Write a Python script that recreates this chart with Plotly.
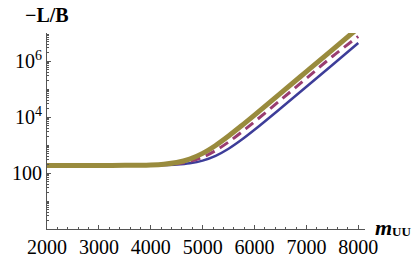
import plotly.graph_objects as go

m_vals = [2000, 2500, 3000, 3500, 4000, 4250, 4500, 4750, 5000, 5250, 5500, 5750, 6000, 6500, 7000, 7500, 8000]
blue_vals = [186, 186, 186.1, 186.4, 188.5, 192, 201, 223, 277, 410, 736, 1535, 3497, 20140, 120400, 724600, 4.37e6]
purple_vals = [186, 186, 186.1, 186.8, 191, 198, 216, 260, 368, 633, 1282, 2878, 6793, 40000, 240000, 1.445e6, 7.5e6]
olive_vals = [186, 186, 186.2, 187.5, 195, 207, 238, 315, 502, 962, 2091, 4863, 11670, 69370, 417000, 2.51e6, 1.51e7]

x_ticks = [2000, 3000, 4000, 5000, 6000, 7000, 8000]
x_tick_labels = ["2000", "3000", "4000", "5000", "6000", "7000", "8000"]
y_ticks = [100, 1e4, 1e6]
y_tick_labels = ["100", "10<sup>4</sup>", "10<sup>6</sup>"]

x_minor = [v for v in range(2000, 8001, 200) if v % 1000 != 0]
y_minor = []
for k in range(0, 7):
    for mlt in range(1, 10):
        v = mlt * 10 ** k
        if v not in y_ticks:
            y_minor.append(v)

FONT = "Liberation Serif"
AX = "#555555"

fig = go.Figure()
fig.add_trace(go.Scatter(x=m_vals, y=blue_vals, mode="lines",
                         line=dict(color="#3d3d99", width=2.5, shape="spline"), showlegend=False))
fig.add_trace(go.Scatter(x=m_vals, y=purple_vals, mode="lines",
                         line=dict(color="#993d71", width=3, dash="10px,6px", shape="spline"), showlegend=False))
fig.add_trace(go.Scatter(x=m_vals, y=olive_vals, mode="lines",
                         line=dict(color="#998b3d", width=5, shape="spline"), showlegend=False))

def px_x(p):
    return (p - 37) / 328

def px_y(p):
    return (240 - p) / 207

fig.update_layout(
    width=417, height=270,
    margin=dict(l=37, r=52, t=33, b=30),
    plot_bgcolor="white", paper_bgcolor="white",
    font=dict(family=FONT, size=20, color="black"),
    xaxis=dict(range=[2000, 8130], showline=True, linecolor=AX, linewidth=1,
               tickvals=x_ticks, ticktext=x_tick_labels, ticks="inside", ticklen=4,
               tickcolor=AX, showgrid=False, zeroline=False, tickfont=dict(family=FONT, size=20),
               minor=dict(tickvals=x_minor, ticks="inside", ticklen=2.5, tickcolor=AX, showgrid=False)),
    yaxis=dict(type="log", range=[0, 7], showline=True, linecolor=AX, linewidth=1,
               tickvals=y_ticks, ticktext=y_tick_labels, ticks="inside", ticklen=4,
               tickcolor=AX, showgrid=False, zeroline=False, tickfont=dict(family=FONT, size=20),
               minor=dict(tickvals=y_minor, ticks="inside", ticklen=2, tickcolor=AX, showgrid=False)),
    annotations=[
        dict(text="<b>\u2212L/B</b>", xref="paper", yref="paper", x=0, y=px_y(14),
             xanchor="center", yanchor="middle", showarrow=False, font=dict(size=20, family=FONT)),
        dict(text="<b><i>m</i></b>", xref="paper", yref="paper",
             x=px_x(374), y=px_y(238), xanchor="left", yanchor="middle", borderpad=0,
             showarrow=False, font=dict(size=22, family=FONT)),
        dict(text="<b>UU</b>", xref="paper", yref="paper",
             x=px_x(392), y=px_y(243), xanchor="left", yanchor="middle", borderpad=0,
             showarrow=False, font=dict(size=13, family=FONT)),
    ],
)

fig.write_html("out.html", config={"displayModeBar": False},
               post_script="document.body.style.margin='0';document.body.style.overflow='hidden';")
